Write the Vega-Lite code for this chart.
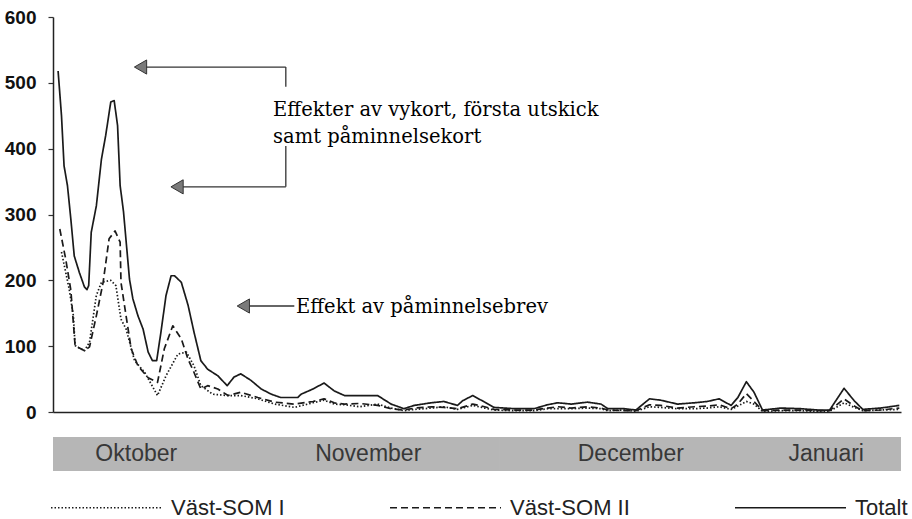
{
  "$schema": "https://vega.github.io/schema/vega-lite/v6.json",
  "background": "white",
  "padding": {"left": 4, "top": 8, "right": 0, "bottom": 0},
  "spacing": 25,
  "bounds": "flush",
  "datasets": {
    "serier": [
      {"dag":0,"serie":"Totalt","antal":518},{"dag":0.4,"serie":"Totalt","antal":450},{"dag":0.7,"serie":"Totalt","antal":374},{"dag":1.1,"serie":"Totalt","antal":344},{"dag":1.5,"serie":"Totalt","antal":293},{"dag":1.9,"serie":"Totalt","antal":237},{"dag":2.5,"serie":"Totalt","antal":212},{"dag":3.1,"serie":"Totalt","antal":190},{"dag":3.4,"serie":"Totalt","antal":186},{"dag":3.6,"serie":"Totalt","antal":192},{"dag":3.9,"serie":"Totalt","antal":273},{"dag":4.5,"serie":"Totalt","antal":313},{"dag":5.1,"serie":"Totalt","antal":384},{"dag":5.6,"serie":"Totalt","antal":420},{"dag":6.2,"serie":"Totalt","antal":471},{"dag":6.6,"serie":"Totalt","antal":473},{"dag":7.0,"serie":"Totalt","antal":435},{"dag":7.3,"serie":"Totalt","antal":344},{"dag":7.7,"serie":"Totalt","antal":304},{"dag":8.4,"serie":"Totalt","antal":202},{"dag":8.8,"serie":"Totalt","antal":172},{"dag":9.4,"serie":"Totalt","antal":146},{"dag":10.0,"serie":"Totalt","antal":126},{"dag":10.6,"serie":"Totalt","antal":91},{"dag":11.1,"serie":"Totalt","antal":78},{"dag":11.6,"serie":"Totalt","antal":78},{"dag":12.1,"serie":"Totalt","antal":121},{"dag":12.7,"serie":"Totalt","antal":177},{"dag":13.3,"serie":"Totalt","antal":207},{"dag":13.7,"serie":"Totalt","antal":207},{"dag":14.5,"serie":"Totalt","antal":197},{"dag":15.3,"serie":"Totalt","antal":162},{"dag":16.0,"serie":"Totalt","antal":121},{"dag":16.8,"serie":"Totalt","antal":78},{"dag":17.6,"serie":"Totalt","antal":65},{"dag":18.8,"serie":"Totalt","antal":55},{"dag":19.9,"serie":"Totalt","antal":40},{"dag":20.7,"serie":"Totalt","antal":53},{"dag":21.5,"serie":"Totalt","antal":58},{"dag":22.7,"serie":"Totalt","antal":48},{"dag":23.9,"serie":"Totalt","antal":35},{"dag":25.1,"serie":"Totalt","antal":27},{"dag":26.2,"serie":"Totalt","antal":22},{"dag":28.2,"serie":"Totalt","antal":22},{"dag":28.6,"serie":"Totalt","antal":27},{"dag":30.0,"serie":"Totalt","antal":35},{"dag":31.3,"serie":"Totalt","antal":44},{"dag":32.5,"serie":"Totalt","antal":32},{"dag":33.7,"serie":"Totalt","antal":25},{"dag":37.6,"serie":"Totalt","antal":25},{"dag":39.2,"serie":"Totalt","antal":12},{"dag":40.7,"serie":"Totalt","antal":5},{"dag":41.9,"serie":"Totalt","antal":10},{"dag":43.9,"serie":"Totalt","antal":14},{"dag":45.4,"serie":"Totalt","antal":16},{"dag":47.0,"serie":"Totalt","antal":10},{"dag":47.6,"serie":"Totalt","antal":17},{"dag":48.8,"serie":"Totalt","antal":25},{"dag":50.2,"serie":"Totalt","antal":15},{"dag":51.3,"serie":"Totalt","antal":7},{"dag":53.7,"serie":"Totalt","antal":5},{"dag":56.0,"serie":"Totalt","antal":5},{"dag":57.6,"serie":"Totalt","antal":11},{"dag":58.8,"serie":"Totalt","antal":14},{"dag":60.4,"serie":"Totalt","antal":12},{"dag":62.3,"serie":"Totalt","antal":15},{"dag":63.9,"serie":"Totalt","antal":12},{"dag":64.7,"serie":"Totalt","antal":5},{"dag":66.6,"serie":"Totalt","antal":5},{"dag":68.0,"serie":"Totalt","antal":3},{"dag":69.6,"serie":"Totalt","antal":20},{"dag":70.9,"serie":"Totalt","antal":18},{"dag":72.9,"serie":"Totalt","antal":12},{"dag":74.9,"serie":"Totalt","antal":14},{"dag":76.4,"serie":"Totalt","antal":16},{"dag":77.8,"serie":"Totalt","antal":20},{"dag":79.2,"serie":"Totalt","antal":10},{"dag":80.0,"serie":"Totalt","antal":22},{"dag":81.0,"serie":"Totalt","antal":46},{"dag":81.9,"serie":"Totalt","antal":30},{"dag":82.9,"serie":"Totalt","antal":3},{"dag":85.1,"serie":"Totalt","antal":6},{"dag":87.4,"serie":"Totalt","antal":5},{"dag":89.4,"serie":"Totalt","antal":3},{"dag":90.8,"serie":"Totalt","antal":3},{"dag":92.5,"serie":"Totalt","antal":36},{"dag":93.7,"serie":"Totalt","antal":17},{"dag":94.7,"serie":"Totalt","antal":4},{"dag":96.8,"serie":"Totalt","antal":6},{"dag":99.0,"serie":"Totalt","antal":10},

      {"dag":0.2,"serie":"Väst-SOM II","antal":278},{"dag":0.9,"serie":"Väst-SOM II","antal":232},{"dag":1.5,"serie":"Väst-SOM II","antal":185},{"dag":2.0,"serie":"Väst-SOM II","antal":101},{"dag":3.1,"serie":"Väst-SOM II","antal":93},{"dag":3.7,"serie":"Väst-SOM II","antal":99},{"dag":4.5,"serie":"Väst-SOM II","antal":146},{"dag":5.3,"serie":"Väst-SOM II","antal":197},{"dag":6.0,"serie":"Väst-SOM II","antal":263},{"dag":6.7,"serie":"Väst-SOM II","antal":275},{"dag":7.3,"serie":"Väst-SOM II","antal":258},{"dag":7.4,"serie":"Väst-SOM II","antal":197},{"dag":8.0,"serie":"Väst-SOM II","antal":146},{"dag":8.6,"serie":"Väst-SOM II","antal":96},{"dag":9.4,"serie":"Väst-SOM II","antal":70},{"dag":10.6,"serie":"Väst-SOM II","antal":52},{"dag":11.7,"serie":"Väst-SOM II","antal":45},{"dag":12.5,"serie":"Väst-SOM II","antal":96},{"dag":13.5,"serie":"Väst-SOM II","antal":131},{"dag":14.5,"serie":"Väst-SOM II","antal":111},{"dag":15.3,"serie":"Väst-SOM II","antal":80},{"dag":16.0,"serie":"Väst-SOM II","antal":60},{"dag":16.8,"serie":"Väst-SOM II","antal":35},{"dag":17.6,"serie":"Väst-SOM II","antal":40},{"dag":18.8,"serie":"Väst-SOM II","antal":35},{"dag":20.0,"serie":"Väst-SOM II","antal":25},{"dag":21.5,"serie":"Väst-SOM II","antal":30},{"dag":23.5,"serie":"Väst-SOM II","antal":22},{"dag":25.5,"serie":"Väst-SOM II","antal":15},{"dag":27.8,"serie":"Väst-SOM II","antal":12},{"dag":30.0,"serie":"Väst-SOM II","antal":16},{"dag":31.3,"serie":"Väst-SOM II","antal":20},{"dag":32.5,"serie":"Väst-SOM II","antal":14},{"dag":33.7,"serie":"Väst-SOM II","antal":12},{"dag":35.5,"serie":"Väst-SOM II","antal":13},{"dag":37.6,"serie":"Väst-SOM II","antal":10},{"dag":39.2,"serie":"Väst-SOM II","antal":5},{"dag":40.7,"serie":"Väst-SOM II","antal":3},{"dag":42.0,"serie":"Väst-SOM II","antal":6},{"dag":44.0,"serie":"Väst-SOM II","antal":8},{"dag":45.4,"serie":"Väst-SOM II","antal":7},{"dag":47.0,"serie":"Väst-SOM II","antal":5},{"dag":48.8,"serie":"Väst-SOM II","antal":12},{"dag":50.2,"serie":"Väst-SOM II","antal":8},{"dag":51.3,"serie":"Väst-SOM II","antal":4},{"dag":53.7,"serie":"Väst-SOM II","antal":3},{"dag":56.0,"serie":"Väst-SOM II","antal":3},{"dag":57.6,"serie":"Väst-SOM II","antal":6},{"dag":58.8,"serie":"Väst-SOM II","antal":8},{"dag":60.4,"serie":"Väst-SOM II","antal":6},{"dag":62.3,"serie":"Väst-SOM II","antal":8},{"dag":63.9,"serie":"Väst-SOM II","antal":6},{"dag":64.7,"serie":"Väst-SOM II","antal":3},{"dag":66.6,"serie":"Väst-SOM II","antal":2},{"dag":68.0,"serie":"Väst-SOM II","antal":2},{"dag":69.6,"serie":"Väst-SOM II","antal":11},{"dag":70.9,"serie":"Väst-SOM II","antal":10},{"dag":72.9,"serie":"Väst-SOM II","antal":6},{"dag":74.9,"serie":"Väst-SOM II","antal":8},{"dag":76.4,"serie":"Väst-SOM II","antal":9},{"dag":77.8,"serie":"Väst-SOM II","antal":11},{"dag":79.2,"serie":"Väst-SOM II","antal":5},{"dag":80.0,"serie":"Väst-SOM II","antal":12},{"dag":81.0,"serie":"Väst-SOM II","antal":28},{"dag":81.9,"serie":"Väst-SOM II","antal":16},{"dag":82.9,"serie":"Väst-SOM II","antal":2},{"dag":85.1,"serie":"Väst-SOM II","antal":3},{"dag":87.4,"serie":"Väst-SOM II","antal":3},{"dag":89.4,"serie":"Väst-SOM II","antal":2},{"dag":90.8,"serie":"Väst-SOM II","antal":2},{"dag":92.5,"serie":"Väst-SOM II","antal":20},{"dag":93.7,"serie":"Väst-SOM II","antal":9},{"dag":94.7,"serie":"Väst-SOM II","antal":2},{"dag":96.8,"serie":"Väst-SOM II","antal":3},{"dag":99.0,"serie":"Väst-SOM II","antal":6},

      {"dag":0.4,"serie":"Väst-SOM I","antal":243},{"dag":1.3,"serie":"Väst-SOM I","antal":187},{"dag":1.8,"serie":"Väst-SOM I","antal":146},{"dag":2.0,"serie":"Väst-SOM I","antal":101},{"dag":3.1,"serie":"Väst-SOM I","antal":93},{"dag":3.7,"serie":"Väst-SOM I","antal":106},{"dag":4.5,"serie":"Väst-SOM I","antal":177},{"dag":5.1,"serie":"Väst-SOM I","antal":197},{"dag":6.2,"serie":"Väst-SOM I","antal":200},{"dag":6.8,"serie":"Väst-SOM I","antal":192},{"dag":7.4,"serie":"Väst-SOM I","antal":141},{"dag":8.0,"serie":"Väst-SOM I","antal":126},{"dag":9.0,"serie":"Väst-SOM I","antal":78},{"dag":10.2,"serie":"Väst-SOM I","antal":60},{"dag":11.7,"serie":"Väst-SOM I","antal":25},{"dag":12.7,"serie":"Väst-SOM I","antal":55},{"dag":14.1,"serie":"Väst-SOM I","antal":88},{"dag":15.1,"serie":"Väst-SOM I","antal":91},{"dag":16.0,"serie":"Väst-SOM I","antal":70},{"dag":16.8,"serie":"Väst-SOM I","antal":40},{"dag":18.2,"serie":"Väst-SOM I","antal":27},{"dag":20.0,"serie":"Väst-SOM I","antal":25},{"dag":21.5,"serie":"Väst-SOM I","antal":25},{"dag":23.5,"serie":"Väst-SOM I","antal":20},{"dag":25.5,"serie":"Väst-SOM I","antal":12},{"dag":27.8,"serie":"Väst-SOM I","antal":7},{"dag":30.0,"serie":"Väst-SOM I","antal":14},{"dag":31.3,"serie":"Väst-SOM I","antal":18},{"dag":32.5,"serie":"Väst-SOM I","antal":12},{"dag":33.7,"serie":"Väst-SOM I","antal":11},{"dag":35.5,"serie":"Väst-SOM I","antal":8},{"dag":37.6,"serie":"Väst-SOM I","antal":12},{"dag":39.2,"serie":"Väst-SOM I","antal":6},{"dag":40.7,"serie":"Väst-SOM I","antal":2},{"dag":42.0,"serie":"Väst-SOM I","antal":4},{"dag":44.0,"serie":"Väst-SOM I","antal":6},{"dag":45.4,"serie":"Väst-SOM I","antal":8},{"dag":47.0,"serie":"Väst-SOM I","antal":4},{"dag":48.8,"serie":"Väst-SOM I","antal":10},{"dag":50.2,"serie":"Väst-SOM I","antal":6},{"dag":51.3,"serie":"Väst-SOM I","antal":3},{"dag":53.7,"serie":"Väst-SOM I","antal":2},{"dag":56.0,"serie":"Väst-SOM I","antal":2},{"dag":57.6,"serie":"Väst-SOM I","antal":5},{"dag":58.8,"serie":"Väst-SOM I","antal":5},{"dag":60.4,"serie":"Väst-SOM I","antal":5},{"dag":62.3,"serie":"Väst-SOM I","antal":6},{"dag":63.9,"serie":"Väst-SOM I","antal":5},{"dag":64.7,"serie":"Väst-SOM I","antal":2},{"dag":66.6,"serie":"Väst-SOM I","antal":3},{"dag":68.0,"serie":"Väst-SOM I","antal":1},{"dag":69.6,"serie":"Väst-SOM I","antal":8},{"dag":70.9,"serie":"Väst-SOM I","antal":7},{"dag":72.9,"serie":"Väst-SOM I","antal":5},{"dag":74.9,"serie":"Väst-SOM I","antal":5},{"dag":76.4,"serie":"Väst-SOM I","antal":6},{"dag":77.8,"serie":"Väst-SOM I","antal":8},{"dag":79.2,"serie":"Väst-SOM I","antal":4},{"dag":80.0,"serie":"Väst-SOM I","antal":9},{"dag":81.0,"serie":"Väst-SOM I","antal":16},{"dag":81.9,"serie":"Väst-SOM I","antal":12},{"dag":82.9,"serie":"Väst-SOM I","antal":1},{"dag":85.1,"serie":"Väst-SOM I","antal":2},{"dag":87.4,"serie":"Väst-SOM I","antal":2},{"dag":89.4,"serie":"Väst-SOM I","antal":1},{"dag":90.8,"serie":"Väst-SOM I","antal":1},{"dag":92.5,"serie":"Väst-SOM I","antal":14},{"dag":93.7,"serie":"Väst-SOM I","antal":7},{"dag":94.7,"serie":"Väst-SOM I","antal":2},{"dag":96.8,"serie":"Väst-SOM I","antal":3},{"dag":99.0,"serie":"Väst-SOM I","antal":4}
    ],
    "pilar": [
      {"x":10.0,"x2":26.8,"y":524,"y2":524},
      {"x":26.8,"x2":26.8,"y":524,"y2":494},
      {"x":14.3,"x2":26.8,"y":342,"y2":342},
      {"x":26.8,"x2":26.8,"y":342,"y2":404},
      {"x":22.1,"x2":27.8,"y":161,"y2":161}
    ],
    "spetsar": [
      {"x":9.7,"y":524},
      {"x":14.0,"y":342},
      {"x":21.8,"y":161}
    ],
    "texter": [
      {"x":25.3,"y":450,"text":"Effekter av vykort, första utskick"},
      {"x":25.3,"y":408,"text":"samt påminnelsekort"},
      {"x":28.0,"y":150,"text":"Effekt av påminnelsebrev"}
    ],
    "manader": [
      {"manad":"Oktober","start":-9,"slut":22,"mitt":9.2},
      {"manad":"November","start":22,"slut":52,"mitt":36.5},
      {"manad":"December","start":52,"slut":83,"mitt":67.4},
      {"manad":"Januari","start":83,"slut":114,"mitt":90.4}
    ]
  },
  "vconcat": [
    {
      "width": 848,
      "height": 395,
      "layer": [
        {
          "data": {"name": "serier"},
          "mark": {"type": "line", "color": "#1a1a1a", "strokeCap": "butt", "strokeJoin": "round"},
          "encoding": {
            "x": {"field": "dag", "type": "quantitative", "scale": {"domain": [-0.6, 99.2], "nice": false, "zero": false},
                  "axis": {"labels": false, "ticks": false, "grid": false, "title": null, "domainColor": "#222", "domainWidth": 1.5}},
            "y": {"field": "antal", "type": "quantitative", "scale": {"domain": [0, 600], "nice": false},
                  "axis": {"values": [0,100,200,300,400,500,600], "grid": false, "title": null, "domainColor": "#222", "domainWidth": 1.5,
                           "tickColor": "#333", "tickSize": 5, "tickWidth": 1.2, "labelFont": "Liberation Sans", "labelFontWeight": "bold",
                           "labelFontSize": 19, "labelColor": "#111", "labelPadding": 12}},
            "strokeDash": {"field": "serie", "type": "nominal",
                           "scale": {"domain": ["Väst-SOM I", "Väst-SOM II", "Totalt"], "range": [[1.5, 2], [7, 4], [1, 0]]},
                           "legend": {"orient": "none", "legendX": -3, "legendY": 434, "direction": "horizontal", "columns": 3, "title": null,
                                      "symbolType": "stroke", "symbolSize": 12321, "symbolStrokeColor": "#222", "padding": 0,
                                      "labelFont": "Liberation Sans", "labelFontSize": 22, "labelColor": "#222", "labelOffset": 8,
                                      "columnPadding": 101, "labelLimit": 300}},
            "strokeWidth": {"field": "serie", "type": "nominal",
                            "scale": {"domain": ["Väst-SOM I", "Väst-SOM II", "Totalt"], "range": [1.7, 1.7, 3]}},
            "detail": {"field": "serie"}
          }
        },
        {
          "data": {"name": "pilar"},
          "mark": {"type": "rule", "color": "#333", "strokeWidth": 1.3},
          "encoding": {
            "x": {"field": "x", "type": "quantitative"},
            "x2": {"field": "x2"},
            "y": {"field": "y", "type": "quantitative"},
            "y2": {"field": "y2"}
          }
        },
        {
          "data": {"name": "spetsar"},
          "mark": {"type": "point", "shape": "triangle-left", "filled": true, "fill": "#7a7a7a", "stroke": "#333", "strokeWidth": 1, "size": 200, "opacity": 1},
          "encoding": {
            "x": {"field": "x", "type": "quantitative"},
            "y": {"field": "y", "type": "quantitative"}
          }
        },
        {
          "data": {"name": "texter"},
          "mark": {"type": "text", "align": "left", "baseline": "alphabetic", "font": "DejaVu Serif", "fontSize": 19.5, "color": "#000"},
          "encoding": {
            "x": {"field": "x", "type": "quantitative"},
            "y": {"field": "y", "type": "quantitative"},
            "text": {"field": "text"}
          }
        }
      ]
    },
    {
      "width": 848,
      "height": 34,
      "data": {"name": "manader"},
      "layer": [
        {
          "mark": {"type": "rect", "clip": true, "fill": "#b6b6b6", "stroke": "#b6b6b6", "strokeWidth": 1},
          "encoding": {
            "x": {"field": "start", "type": "quantitative", "scale": {"domain": [-0.6, 99.2], "nice": false, "zero": false}, "axis": null},
            "x2": {"field": "slut"}
          }
        },
        {
          "mark": {"type": "text", "font": "Liberation Sans", "fontSize": 23, "color": "#383838", "baseline": "middle"},
          "encoding": {
            "x": {"field": "mitt", "type": "quantitative"},
            "text": {"field": "manad"}
          }
        }
      ]
    }
  ],
  "config": {"view": {"stroke": null}}
}
